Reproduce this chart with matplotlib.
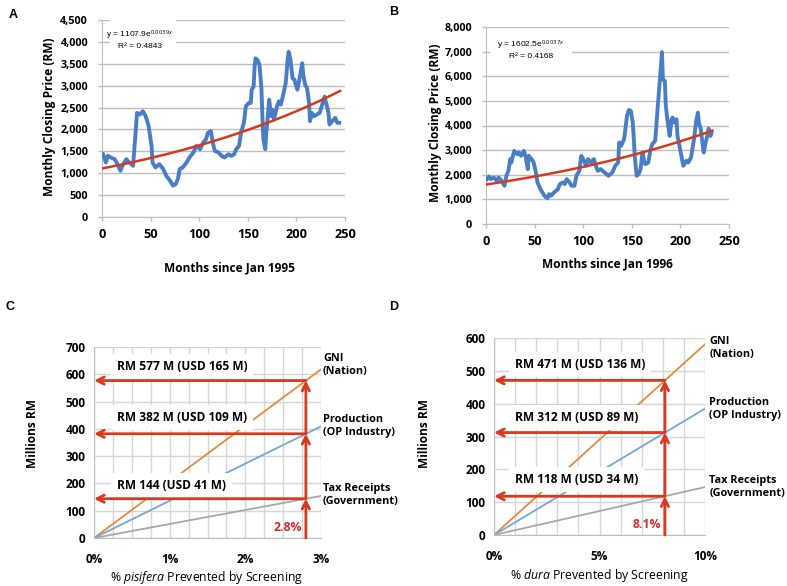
import numpy as np
import matplotlib
matplotlib.use('Agg')
import matplotlib.pyplot as plt
from matplotlib.patches import Rectangle
from matplotlib.ticker import StrMethodFormatter, MultipleLocator, FixedLocator

plt.rcParams['font.family'] = ['Open Sans', 'DejaVu Sans']
plt.rcParams['mathtext.fontset'] = 'custom'
plt.rcParams['mathtext.rm'] = 'Open Sans'
plt.rcParams['mathtext.it'] = 'Open Sans:italic'
plt.rcParams['mathtext.bf'] = 'Open Sans:bold'

# ---- data: panel A (monthly closing price, from Jan 1995)
a_month = [1, 4, 6, 9, 13, 16, 19, 21, 25, 28, 32, 33, 36, 39, 42, 45, 48, 51, 52, 55,
           59, 63, 66, 70, 73, 76, 78, 80, 83, 87, 90, 94, 97, 101, 104, 107, 109, 112, 114, 116,
           120, 123, 126, 130, 133, 136, 138, 141, 143, 146, 148, 151, 153, 154, 156, 157, 158, 160, 162, 164,
           165, 166, 168, 169, 170, 172, 174, 175, 177, 180, 182, 184, 186, 189, 191, 192, 194, 196, 198, 201,
           203, 206, 207, 209, 211, 213, 214, 216, 218, 221, 224, 227, 229, 231, 233, 234, 237, 240, 242, 244]
a_price = [1434, 1246, 1400, 1360, 1320, 1208, 1057, 1170, 1320, 1246, 1170, 1472, 2378, 2340, 2416, 2300, 2076, 1623, 1246, 1132,
           1208, 1095, 944, 830, 717, 755, 868, 1095, 1132, 1246, 1359, 1472, 1623, 1548, 1699, 1774, 1925, 1963, 1699, 1510,
           1472, 1397, 1359, 1434, 1397, 1434, 1548, 1623, 1925, 2152, 2529, 2605, 2605, 2907, 2982, 3435, 3624, 3586, 3473, 2944,
           2303, 1774, 1548, 1925, 2152, 2680, 2303, 2454, 2227, 2529, 2643, 2567, 2756, 3058, 3586, 3775, 3586, 3171, 3133, 2907,
           3133, 3511, 3246, 3020, 2944, 2605, 2190, 2378, 2303, 2340, 2378, 2605, 2750, 2567, 2378, 2114, 2190, 2265, 2152, 2152]
a_fit = (1107.9, 0.0039, 245)   # y = a*exp(b*x), drawn up to x
a_eq = ['y = 1107.9e$^{0.0039x}$', 'R² = 0.4843']

# ---- data: panel B (monthly closing price, from Jan 1996)
b_month = [1, 3, 5, 8, 11, 13, 16, 19, 21, 23, 25, 26, 29, 32, 34, 36, 39, 41, 43, 44,
           47, 49, 51, 53, 56, 58, 60, 63, 65, 67, 70, 74, 76, 79, 81, 83, 86, 88, 91, 93,
           96, 98, 100, 103, 105, 108, 111, 113, 115, 118, 122, 124, 126, 128, 130, 133, 136, 137, 139, 142,
           143, 145, 147, 149, 151, 152, 153, 155, 157, 159, 161, 163, 164, 167, 169, 171, 174, 175, 177, 180,
           181, 182, 184, 185, 187, 189, 191, 192, 194, 196, 197, 199, 201, 203, 206, 208, 211, 212, 214, 216,
           218, 219, 221, 223, 224, 226, 228, 229, 231, 232]
b_price = [1823, 1931, 1823, 1890, 1755, 1890, 1755, 1553, 1958, 2160, 2633, 2498, 2970, 2835, 2903, 2768, 2970, 2700, 2228, 2768,
           2633, 2498, 2160, 1688, 1418, 1283, 1148, 1040, 1215, 1148, 1283, 1418, 1620, 1688, 1620, 1823, 1688, 1553, 1553, 1958,
           2160, 2768, 2633, 2363, 2633, 2498, 2633, 2363, 2160, 2228, 2093, 2025, 1958, 2025, 2093, 2363, 2498, 3308, 3173, 3443,
           3713, 4388, 4630, 4590, 4118, 3510, 2768, 1958, 2025, 2228, 2903, 2498, 2430, 2498, 2970, 3240, 3375, 3848, 4928, 6413,
           6980, 5873, 5805, 4793, 4118, 3578, 4253, 4320, 4118, 4253, 3578, 3173, 2768, 2363, 2565, 2498, 2700, 2970, 3443, 4118,
           4523, 4118, 3848, 3173, 2903, 3308, 3645, 3875, 3578, 3700]
b_fit = (1602.5, 0.0037, 233)
b_eq = ['y = 1602.5e$^{0.0037x}$', 'R² = 0.4168']

# ---- data: panel C (% pisifera prevented) and D (% dura prevented)
c_x = [0, 3]
c_series = {'GNI\n(Nation)': [0, 618], 'Production\n(OP Industry)': [0, 409], 'Tax Receipts\n(Government)': [0, 154]}
c_cut = 2.8
c_levels = [144, 382, 577]
c_texts = ['RM 144 (USD 41 M)', 'RM 382 M (USD 109 M)', 'RM 577 M (USD 165 M)']

d_x = [0, 10]
d_series = {'GNI\n(Nation)': [0, 581], 'Production\n(OP Industry)': [0, 385], 'Tax Receipts\n(Government)': [0, 146]}
d_cut = 8.1
d_levels = [118, 312, 471]
d_texts = ['RM 118 M (USD 34 M)', 'RM 312 M (USD 89 M)', 'RM 471 M (USD 136 M)']

# ---- style
W, H = 787, 586
blue = '#4A7EC4'
trend_red = '#D43A1E'
arrow_red = '#D63A1F'
pct_red = '#D42A2E'
grid_ab = '#BEBEBE'
grid_cd = '#D6D6D6'
line_colors = ['#E38B3E', '#78A6DA', '#A8A8A8']


def frac_box(l, t, r, b):
  return [l / W, 1 - b / H, (r - l) / W, (b - t) / H]


def ftext(x, y, s, **kw):
  fig.text(x / W, 1 - y / H, s, ha='center', va='center', **kw)


def bold_ticks(ax, weight='bold'):
  for lab in ax.get_xticklabels(which='both') + ax.get_yticklabels(which='both'):
    lab.set_fontweight(weight)


fig = plt.figure(figsize=(W / 100, H / 100), dpi=100)

# ---------- panels A and B
def price_panel(box, months, price, fit, eq, ymax, ystep, eq_xy, eq_rect):
  ax = fig.add_axes(box)
  ax.set_xlim(0, 250)
  ax.set_ylim(0, ymax)
  ax.yaxis.set_major_locator(MultipleLocator(ystep))
  ax.xaxis.set_major_locator(MultipleLocator(50))
  ax.yaxis.set_major_formatter(StrMethodFormatter('{x:,.0f}'))
  ax.grid(axis='y', color=grid_ab, lw=1.0, zorder=0)
  ax.set_axisbelow(True)
  for s in ['top', 'right']:
    ax.spines[s].set_visible(False)
  for s in ['left', 'bottom']:
    ax.spines[s].set_color(grid_ab)
  ax.tick_params(axis='both', color=grid_ab, length=3, width=1)
  ax.tick_params(axis='y', labelsize=7.8, pad=7)
  ax.tick_params(axis='x', labelsize=9.2, pad=5)
  ax.plot(months, price, color=blue, lw=2.8, solid_joinstyle='round', zorder=3)
  xf = np.linspace(0, fit[2], 200)
  ax.plot(xf, fit[0] * np.exp(fit[1] * xf), color=trend_red, lw=1.8, zorder=4)
  # white box behind the trendline equation (hides the gridlines)
  ax.add_patch(Rectangle(eq_rect[:2], eq_rect[2], eq_rect[3], transform=ax.transAxes,
                         fc='white', ec='none', zorder=1.5, clip_on=False))
  ax.text(eq_xy[0], eq_xy[1], '\n'.join(eq), ha='center', va='center', fontsize=6,
          family=['Liberation Sans', 'DejaVu Sans'], linespacing=1.25, zorder=5)
  return ax


axA = price_panel(frac_box(102, 20, 345, 217), a_month, a_price, a_fit, a_eq, 4500, 500,
                  (39, 4054), (0.033, 0.838, 0.272, 0.185))
axB = price_panel(frac_box(486, 27, 729, 224), b_month, b_price, b_fit, b_eq, 8000, 1000,
                  (46, 7107), (0.016, 0.822, 0.338, 0.132))

ftext(50, 117, 'Monthly Closing Price (RM)', rotation=90, fontsize=8.6, fontweight='bold')
ftext(229, 268, 'Months since Jan 1995', fontsize=8.6, fontweight='bold')
ftext(435, 123, 'Monthly Closing Price (RM)', rotation=90, fontsize=8.6, fontweight='bold')
ftext(607, 264, 'Months since Jan 1996', fontsize=8.6, fontweight='bold')


# ---------- panels C and D
def value_panel(box, xs, series, cut, levels, texts, xmax, ymax, xminor, xticks, text_x, text_y,
                name_dy, name_dx):
  ax = fig.add_axes(box)
  ax.set_xlim(0, xmax)
  ax.set_ylim(0, ymax)
  ax.yaxis.set_major_locator(MultipleLocator(100))
  ax.xaxis.set_major_locator(FixedLocator(xticks))
  ax.xaxis.set_major_formatter(StrMethodFormatter('{x:.0f}%'))
  ax.xaxis.set_minor_locator(MultipleLocator(xminor))
  ax.grid(which='both', color=grid_cd, lw=1.0, zorder=0)
  ax.set_axisbelow(True)
  for s in ['top', 'right']:
    ax.spines[s].set_visible(False)
  for s in ['left', 'bottom']:
    ax.spines[s].set_color('#BDBDBD')
  ax.tick_params(which='both', length=0, labelsize=8.5)
  ax.tick_params(axis='y', pad=6)
  ax.tick_params(axis='x', pad=11)

  # straight value lines with their names at the right
  for (name, vals), col, dy in zip(series.items(), line_colors, name_dy):
    ax.plot(xs, vals, color=col, lw=1.3, zorder=2)
    ax.annotate(name, xy=(1, vals[-1] / ymax), xycoords='axes fraction', xytext=(name_dx, dy),
                textcoords='offset points', ha='left', va='center', fontsize=7.8, fontweight='bold',
                linespacing=1.25, annotation_clip=False)

  # value labels with white boxes hiding lines behind them
  for ty, t in zip(text_y, texts):
    ax.text(text_x, ty, t, ha='left', va='center', fontsize=8.6, fontweight='bold', zorder=3,
            bbox=dict(boxstyle='square,pad=0.5', fc='white', ec='none'))

  # red arrows
  prev = 0
  for lv in levels:
    ax.annotate('', xy=(0, lv), xytext=(cut, lv),
                arrowprops=dict(arrowstyle='->', color=arrow_red, lw=2.0, mutation_scale=13,
                                shrinkA=0, shrinkB=0), zorder=4)
    ax.annotate('', xy=(cut, lv), xytext=(cut, prev),
                arrowprops=dict(arrowstyle='->', color=arrow_red, lw=2.0, mutation_scale=13,
                                shrinkA=0, shrinkB=0), zorder=4)
    prev = lv
  ax.annotate('%g%%' % cut, xy=(cut, 0), xytext=(-3, 3), textcoords='offset points',
              ha='right', va='bottom', color=pct_red, fontsize=8.8, fontweight='bold', zorder=5)
  return ax


axC = value_panel(frac_box(94, 347, 321, 538), c_x, c_series, c_cut, c_levels, c_texts,
                  3, 700, 0.25, [0, 1, 2, 3], 0.30, [194, 440, 630], [3, 0, 1], 1.5)
axD = value_panel(frac_box(494, 338, 705, 535), d_x, d_series, d_cut, d_levels, d_texts,
                  10, 600, 1, [0, 5, 10], 1.0, [168, 357, 518], [-2.5, 0, 0], 3)

fig.canvas.draw()
for ax in [axA, axB, axC, axD]:
  bold_ticks(ax)

ftext(33, 434, 'Millions RM', rotation=90, fontsize=8.6, fontweight='bold')
ftext(207, 577, r'% $\mathit{pisifera}$ Prevented by Screening', fontsize=8.8)
ftext(425, 433, 'Millions RM', rotation=90, fontsize=8.6, fontweight='bold')
ftext(599, 575, r'% $\mathit{dura}$ Prevented by Screening', fontsize=8.8)

# panel letters
for x, y, s in [(13, 15, 'A'), (394, 12, 'B'), (10, 307, 'C'), (394, 307, 'D')]:
  ftext(x, y, s, fontsize=9, fontweight='bold', family=['Liberation Sans', 'DejaVu Sans'])

fig.savefig('out.png', dpi=100)
